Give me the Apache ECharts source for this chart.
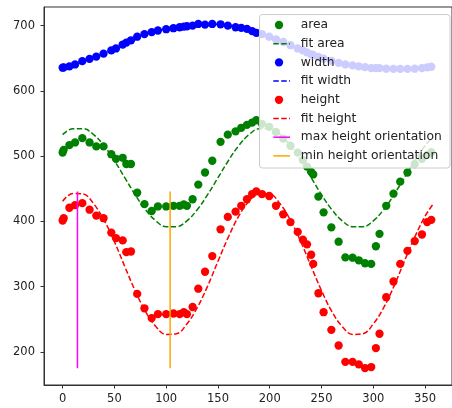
<!DOCTYPE html>
<html>
<head>
<meta charset="utf-8">
<script src="https://cdn.jsdelivr.net/npm/echarts@6/dist/echarts.min.js"></script>
<style>
html,body{margin:0;padding:0;background:#fff;}
#chart{width:452px;height:408px;}
</style>
</head>
<body>
<div id="chart"></div>
<script>
// Orientation angles (x) of the samples
const angles = [0, 1, 6.5, 12, 19, 26, 32.5, 39.5, 47, 51.5, 58, 61.5, 66, 72, 79, 86, 92, 100, 107, 113, 117, 120, 125.5, 131, 137.5, 144.5, 152.5, 159.5, 167, 172.5, 178, 183, 187, 192.5, 199.5, 206, 213, 220, 227, 232, 236, 240, 242, 247, 252, 259.5, 266.5, 273, 280, 286, 292, 298, 302.5, 306, 312.5, 319.5, 326, 333, 340, 347, 352, 356];
const areaVals = [505.6, 509.7, 517, 521, 527.6, 521, 515, 515, 503, 496, 497.5, 488, 488, 444, 426.5, 416, 423, 423, 424, 424, 426, 424, 434, 456.5, 475, 493, 522, 533, 538, 543.5, 548, 551.5, 555, 549.5, 545, 537, 527, 516, 505.5, 494, 484, 476, 472, 438, 414, 391, 369, 345, 344.5, 340.5, 336, 335, 362, 381, 424, 442.5, 461, 475, 488, 496, 502, 506];
const widthVals = [635.5, 636, 637.5, 640.5, 645.5, 649, 652.5, 657, 662, 665, 671, 674, 677.5, 683, 687, 690, 692.5, 694.5, 696, 697.5, 698.5, 699, 700, 702.5, 701.5, 702.5, 702, 700, 697.5, 696.5, 695, 691.5, 689, 687, 683, 679, 675, 670, 665, 662, 659, 656, 655, 652, 649.5, 646, 643, 640.5, 639, 637.5, 636.5, 635, 634.8, 634.8, 634, 633.7, 633.7, 633.7, 634, 634.8, 636, 637];
const heightVals = [401.5, 405, 421, 425, 428, 418, 409, 405, 383, 374.5, 371, 353, 354, 289, 267, 252, 258, 258, 259, 258, 261, 258, 269, 297, 323, 347, 388, 407, 415, 424, 434, 442, 446, 442, 439, 424, 411, 399, 384, 372, 365, 349, 335, 290, 261, 234, 210, 185, 185, 181, 175.5, 177, 206, 228, 284, 308, 335, 355, 370, 380, 399, 402.5];

// Fitted curves
const fitAngles = [0, 10, 20, 30, 40, 50, 60, 70, 80, 90, 100, 110, 120, 130, 140, 150, 160, 170, 180, 190, 200, 210, 220, 230, 240, 250, 260, 270, 280, 290, 300, 310, 320, 330, 340, 350, 358];
const fitAreaVals = [533, 542, 542, 533, 516, 493, 467, 441, 418, 401, 392, 392, 401, 418, 441, 467, 493, 516, 533, 542, 542, 533, 516, 493, 467, 441, 418, 401, 392, 392, 401, 418, 441, 467, 493, 516, 530];
const fitWidthVals = [636, 639, 645, 651, 658, 664, 673, 681, 688, 692, 695, 697, 699, 702, 702, 702, 700, 697, 694, 688, 682.5, 677, 670, 663, 656, 650.5, 646, 641.5, 639, 637, 635, 634.5, 633.7, 634, 634, 635.5, 637];
const fitHeightVals = [431, 443, 442, 427, 402, 369, 331, 294, 262, 239, 227, 228, 243, 268, 301, 339, 376, 408, 431, 443, 442, 427, 402, 369, 331, 294, 262, 239, 227, 228, 243, 268, 301, 339, 376, 408, 427];

// Orientation markers
const maxHeightAngle = 14.3;
const minHeightAngle = 103.8;
const heightRange = [175, 446];

const xTicks = [0, 50, 100, 150, 200, 250, 300, 350];
const yTicks = [200, 300, 400, 500, 600, 700];

const legendNames = ['area', 'fit area', 'width', 'fit width', 'height', 'fit height', 'max height orientation', 'min height orientation'];
const legendKinds = ['dot', 'dash', 'dot', 'dash', 'dot', 'dash', 'solid', 'solid'];
const legendColors = ['#008000', '#008000', '#0000ff', '#0000ff', '#ff0000', '#ff0000', '#ff00ff', '#ffa500'];

const pairs = (xs, ys) => xs.map((x, i) => [x, ys[i]]);
const dash = [5.5, 2.4];
const MS = 8.3;
const font = 'DejaVu Sans';

// legend as graphic elements
const LG = {x: 259.5, y: 14.5, w: 190.5, h: 153.5, first: 25, step: 18.7, lineX1: 273.3, lineX2: 290, dotX: 279, textX: 300.7};
const legendGraphic = [{
  type: 'rect', z: 100, silent: true,
  shape: {x: LG.x, y: LG.y, width: LG.w, height: LG.h, r: 3},
  style: {fill: 'rgba(255,255,255,0.8)', stroke: '#cccccc', lineWidth: 1}
}];
legendNames.forEach((name, i) => {
  const cy = LG.first + i * LG.step;
  if (legendKinds[i] === 'dot') {
    legendGraphic.push({type: 'circle', z: 101, silent: true, shape: {cx: LG.dotX, cy: cy, r: MS / 2}, style: {fill: legendColors[i]}});
  } else {
    legendGraphic.push({type: 'line', z: 101, silent: true,
      shape: {x1: LG.lineX1, y1: cy, x2: LG.lineX2, y2: cy},
      style: {stroke: legendColors[i], lineWidth: 1.5, lineDash: legendKinds[i] === 'dash' ? dash : null}});
  }
  legendGraphic.push({type: 'text', z: 101, silent: true, x: LG.textX, y: cy,
    style: {text: name, fill: '#222', font: '12.3px "DejaVu Sans"', textVerticalAlign: 'middle', verticalAlign: 'middle', textAlign: 'left', align: 'left'}});
});

const chart = echarts.init(document.getElementById('chart'), null, {renderer: 'canvas'});

chart.setOption({
  animation: false,
  backgroundColor: '#ffffff',
  textStyle: {fontFamily: font},
  grid: {left: 44, top: 7, width: 413, height: 378, show: true, borderColor: '#333', borderWidth: 1, backgroundColor: 'transparent', containLabel: false},
  xAxis: {
    type: 'value', min: -18, max: 376,
    axisLine: {show: true, onZero: false, lineStyle: {color: '#333', width: 1}},
    splitLine: {show: false},
    axisTick: {show: true, inside: false, length: 3.5, lineStyle: {color: '#333'}, customValues: xTicks},
    axisLabel: {fontSize: 11.5, color: '#222', margin: 8, fontFamily: font, customValues: xTicks}
  },
  yAxis: {
    type: 'value', min: 149.5, max: 728.5,
    axisLine: {show: true, onZero: false, lineStyle: {color: '#333', width: 1}},
    splitLine: {show: false},
    axisTick: {show: true, inside: false, length: 3.5, lineStyle: {color: '#333'}, customValues: yTicks},
    axisLabel: {fontSize: 11.5, color: '#222', margin: 9, fontFamily: font, customValues: yTicks}
  },
  graphic: legendGraphic,
  series: [
    {name: 'area', type: 'scatter', symbol: 'circle', symbolSize: MS, itemStyle: {color: '#008000', opacity: 1}, data: pairs(angles, areaVals)},
    {name: 'fit area', type: 'line', smooth: 0.4, symbol: 'none', lineStyle: {color: '#008000', width: 1.5, type: dash}, itemStyle: {color: '#008000'}, data: pairs(fitAngles, fitAreaVals)},
    {name: 'fit width', type: 'line', z: 1, smooth: 0.4, symbol: 'none', lineStyle: {color: '#0000ff', width: 1.5, type: dash}, itemStyle: {color: '#0000ff'}, data: pairs(fitAngles, fitWidthVals)},
    {name: 'width', type: 'scatter', symbol: 'circle', symbolSize: MS, itemStyle: {color: '#0000ff', opacity: 1}, data: pairs(angles, widthVals)},
    {name: 'height', type: 'scatter', symbol: 'circle', symbolSize: MS, itemStyle: {color: '#ff0000', opacity: 1}, data: pairs(angles, heightVals)},
    {name: 'fit height', type: 'line', smooth: 0.4, symbol: 'none', lineStyle: {color: '#ff0000', width: 1.5, type: dash}, itemStyle: {color: '#ff0000'}, data: pairs(fitAngles, fitHeightVals)},
    {name: 'max height orientation', type: 'line', symbol: 'none', lineStyle: {color: '#ff00ff', width: 1.5}, itemStyle: {color: '#ff00ff'}, data: [[maxHeightAngle, heightRange[0]], [maxHeightAngle, heightRange[1]]]},
    {name: 'min height orientation', type: 'line', symbol: 'none', lineStyle: {color: '#ffa500', width: 1.5}, itemStyle: {color: '#ffa500'}, data: [[minHeightAngle, heightRange[0]], [minHeightAngle, heightRange[1]]]}
  ]
});
</script>
</body>
</html>
